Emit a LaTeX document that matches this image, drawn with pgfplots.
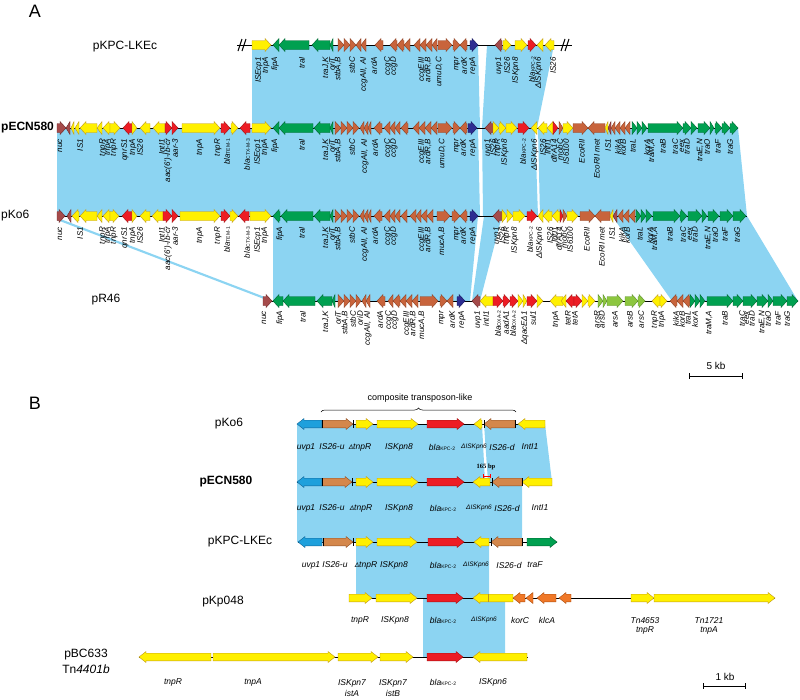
\documentclass[border=0pt]{standalone}
\usepackage{pgfplots}
\pgfplotsset{compat=1.18}
\usepackage{fontspec}
\setmainfont{Liberation Sans}
\newfontfamily\seriffont{Liberation Serif}
\usetikzlibrary{decorations.pathreplacing}
\definecolor{gY}{RGB}{255,240,0}\definecolor{gYd}{RGB}{190,150,30}
\definecolor{gG}{RGB}{0,160,80}\definecolor{gGd}{RGB}{0,100,50}
\definecolor{gB}{RGB}{200,100,60}\definecolor{gBd}{RGB}{140,65,35}
\definecolor{gM}{RGB}{165,75,75}\definecolor{gMd}{RGB}{110,40,40}
\definecolor{gR}{RGB}{237,28,36}\definecolor{gRd}{RGB}{160,20,20}
\definecolor{gN}{RGB}{45,45,145}\definecolor{gNd}{RGB}{20,20,90}
\definecolor{gL}{RGB}{140,198,63}\definecolor{gLd}{RGB}{90,140,40}
\definecolor{bBl}{RGB}{30,160,220}\definecolor{bBld}{RGB}{20,100,150}
\definecolor{bOr}{RGB}{212,135,75}\definecolor{bOrd}{RGB}{140,80,40}
\definecolor{bOt}{RGB}{240,120,40}\definecolor{bOtd}{RGB}{170,80,20}
\definecolor{shade}{RGB}{140,212,242}
\def\hh{6.5}\def\bh{4.5}\def\hl{6}\def\gy{45}\def\ry{55}
\newcommand{\gene}[3]{%
 \pgfmathsetmacro\gd{(#2>#1)?1:-1}%
 \pgfmathsetmacro\gLen{abs(#2-#1)}%
 \pgfmathsetmacro\gh{min(\hl,\gLen)}%
 \pgfmathsetmacro\gx{#2-\gd*\gh}%
 \pgfmathsetmacro\ya{\gy-\bh}\pgfmathsetmacro\yb{\gy+\bh}%
 \pgfmathsetmacro\yc{\gy-\hh}\pgfmathsetmacro\ye{\gy+\hh}%
 \addplot[fill=#3, draw=#3d, line width=0.4pt] coordinates {(#1,\ya) (\gx,\ya) (\gx,\yc) (#2,\gy) (\gx,\ye) (\gx,\yb) (#1,\yb) (#1,\ya)};%
}
\newcommand{\bline}[2]{\addplot[black,line width=1pt] coordinates {(#1,\gy)(#2,\gy)};}
\newcommand{\sh}[8]{\addplot[fill=shade,draw=none] coordinates {(#1,#2)(#3,#4)(#5,#6)(#7,#8)(#1,#2)};}
\newcommand{\la}[2]{\edef\tmp{\noexpand\node[lab] at (axis cs:#1,\ry)}\tmp{#2};}
\newcommand{\lb}[2]{\edef\tmp{\noexpand\node[labb] at (axis cs:#1,\ry)}\tmp{#2};}
\newcommand{\bla}[1]{bla{\fontsize{5}{5}\selectfont\upshape #1}}
\newcommand{\tk}[1]{\addplot[black,line width=0.8pt] coordinates {(#1,\gy-4)(#1,\gy+4)};}
\begin{document}
\begin{tikzpicture}[lab/.style={rotate=90,anchor=east,inner sep=0pt,font=\fontsize{8}{8}\selectfont\itshape},
 labb/.style={anchor=center,inner sep=0pt,font=\fontsize{8.5}{9}\selectfont\itshape},
 nm/.style={inner sep=0pt,font=\fontsize{12}{13}\selectfont}]
\begin{axis}[scale only axis, width=800pt, height=699pt, xmin=0, xmax=800, ymin=0, ymax=699,
 y dir=reverse, hide axis, clip=false, no marks]
\addplot[draw=none] coordinates {(0,0)(800,699)};
% ---------- shading panel A
\sh{252}{45}{478}{45}{480}{128}{252}{128}
\sh{487}{45}{554}{45}{537}{128}{482}{128}
\sh{57}{128}{478}{128}{480}{216}{57}{216}
\sh{482}{128}{535}{128}{538}{216}{483}{216}
\sh{538}{128}{738}{128}{747}{216}{540}{216}
\sh{57}{220}{63}{220}{270}{299}{264}{299}
\sh{273}{216}{478}{216}{470}{301}{273}{301}
\sh{484}{216}{502}{216}{480}{301}{472}{301}
\sh{612}{216}{747}{216}{798}{301}{672}{301}
% ---------- shading panel B
\sh{297}{424}{482}{424}{485}{482}{297}{482}
\sh{484}{424}{545}{424}{552}{482}{488}{482}
\sh{297}{482}{522}{482}{522}{542}{297}{542}
\sh{356}{542}{489}{542}{489}{598}{356}{598}
\sh{423}{598}{505}{598}{505}{657}{423}{657}
% ================= PANEL A
% pKPC-LKEc
\def\gy{45}
\bline{237}{572}
\addplot[black,line width=1pt] coordinates {(238,51)(242,39)};
\addplot[black,line width=1pt] coordinates {(242,51)(246,39)};
\addplot[black,line width=1pt] coordinates {(561,51)(565,39)};
\addplot[black,line width=1pt] coordinates {(565,51)(569,39)};
\gene{252}{271}{gY}
\gene{279}{273}{gG}\gene{309}{279}{gG}\gene{330}{312}{gG}\gene{333}{330}{gG}
\gene{338}{344}{gB}\gene{344}{350}{gB}\gene{350}{356}{gB}
\gene{361}{356}{gB}\gene{366}{361}{gB}
\gene{383}{375}{gB}
\gene{397}{390}{gB}\gene{404}{397}{gB}\gene{410}{404}{gB}
\gene{420}{414}{gB}\gene{426}{420}{gB}\gene{432}{426}{gB}\gene{437}{432}{gB}
\gene{438}{452}{gB}\gene{453}{460}{gB}\gene{467}{460}{gB}
\gene{470}{478}{gN}
\gene{502}{495}{gM}\gene{503}{511}{gY}\gene{515}{527}{gY}\gene{528}{536}{gR}
\gene{543}{537}{gY}\gene{554}{545}{gY}
% pECN580
\def\gy{128}
\bline{57}{738}
\gene{57}{66}{gM}\gene{70}{66}{gM}
\gene{74}{71}{gY}\gene{79}{75}{gY}\gene{97}{80}{gY}\gene{102}{97}{gY}
\gene{110}{103}{gY}\gene{110}{120}{gY}
\gene{132}{123}{gR}\gene{132}{137}{gY}
\gene{150}{140}{gY}\gene{165}{153}{gY}
\gene{165}{172}{gR}\gene{172}{178}{gR}
\gene{182}{220}{gY}
\gene{221}{230}{gR}\gene{231}{238}{gY}
\gene{250}{240}{gR}
\gene{252}{271}{gY}
\gene{279}{273}{gG}\gene{313}{279}{gG}\gene{330}{314}{gG}\gene{333}{330}{gG}
\gene{335}{341}{gB}\gene{341}{347}{gB}\gene{347}{353}{gB}\gene{353}{359}{gB}
\gene{364}{360}{gB}\gene{368}{364}{gB}\gene{371}{368}{gB}
\gene{382}{374}{gB}
\gene{390}{384}{gB}\gene{395}{390}{gB}\gene{400}{395}{gB}\gene{408}{401}{gB}
\gene{419}{413}{gB}\gene{425}{419}{gB}\gene{431}{425}{gB}\gene{437}{431}{gB}
\gene{438}{452}{gB}\gene{453}{460}{gB}\gene{467}{460}{gB}
\gene{468}{477}{gN}
\gene{493}{485}{gM}\gene{493}{499}{gY}\gene{499}{506}{gY}\gene{506}{517}{gY}
\gene{518}{529}{gR}
\gene{537}{531}{gY}\gene{547}{538}{gY}\gene{553}{547}{gY}
\gene{553}{558}{gR}\gene{559}{563}{gB}\gene{563}{573}{gY}
\gene{573}{588}{gB}\gene{605}{588}{gB}
\gene{608}{605}{gY}\gene{611}{608}{gM}
\gene{615}{611}{gB}\gene{620}{615}{gB}\gene{625}{620}{gB}\gene{630}{625}{gB}
\gene{632}{637}{gG}\gene{637}{642}{gG}\gene{642}{647}{gG}
\gene{648}{683}{gG}\gene{683}{691}{gG}\gene{691}{697}{gG}
\gene{698}{710}{gG}\gene{710}{714}{gG}\gene{715}{722}{gG}\gene{722}{730}{gG}\gene{730}{738}{gG}
% pKo6
\def\gy{216}
\bline{57}{747}
\gene{57}{65}{gM}\gene{71}{67}{gM}
\gene{79}{72}{gY}\gene{97}{80}{gY}\gene{102}{97}{gY}
\gene{110}{103}{gY}\gene{110}{119}{gY}
\gene{132}{122}{gR}\gene{132}{137}{gY}
\gene{150}{140}{gY}\gene{163}{152}{gY}
\gene{163}{172}{gR}\gene{172}{178}{gR}
\gene{180}{220}{gY}
\gene{221}{230}{gR}\gene{230}{238}{gY}
\gene{249}{239}{gR}
\gene{250}{271}{gY}
\gene{280}{273}{gG}\gene{313}{281}{gG}\gene{330}{314}{gG}\gene{333}{330}{gG}
\gene{335}{341}{gB}\gene{341}{347}{gB}\gene{347}{353}{gB}\gene{353}{359}{gB}
\gene{364}{360}{gB}\gene{368}{364}{gB}\gene{371}{368}{gB}
\gene{382}{374}{gB}
\gene{390}{384}{gB}\gene{395}{390}{gB}\gene{400}{395}{gB}\gene{407}{401}{gB}
\gene{416}{410}{gB}\gene{421}{416}{gB}\gene{427}{421}{gB}\gene{433}{427}{gB}
\gene{437}{450}{gB}\gene{452}{460}{gB}\gene{467}{460}{gB}
\gene{470}{478}{gN}
\gene{502}{493}{gM}\gene{502}{507}{gY}\gene{507}{513}{gY}\gene{513}{525}{gY}
\gene{527}{537}{gR}
\gene{543}{538}{gY}\gene{552}{543}{gY}\gene{560}{552}{gY}
\gene{560}{563}{gR}\gene{563}{567}{gB}\gene{567}{578}{gY}
\gene{580}{595}{gB}\gene{610}{595}{gB}
\gene{613}{610}{gY}\gene{617}{613}{gM}
\gene{623}{618}{gB}\gene{629}{623}{gB}\gene{635}{629}{gB}
\gene{636}{641}{gG}\gene{641}{646}{gG}\gene{646}{652}{gG}
\gene{653}{680}{gG}\gene{680}{687}{gG}\gene{688}{702}{gG}\gene{702}{707}{gG}
\gene{708}{719}{gG}\gene{720}{733}{gG}\gene{733}{746}{gG}
% pR46
\def\gy{301}
\bline{263}{798}
\gene{263}{272}{gM}
\gene{283}{273}{gG}\gene{315}{283}{gG}\gene{332}{317}{gG}\gene{335}{332}{gG}
\gene{338}{344}{gB}\gene{344}{350}{gB}\gene{350}{356}{gB}\gene{356}{361}{gB}
\gene{366}{362}{gB}\gene{370}{366}{gB}
\gene{385}{377}{gB}
\gene{393}{388}{gB}\gene{400}{393}{gB}\gene{406}{400}{gB}\gene{412}{406}{gB}\gene{418}{412}{gB}
\gene{420}{438}{gB}\gene{440}{447}{gB}\gene{453}{447}{gB}
\gene{457}{465}{gN}
\gene{480}{472}{gM}\gene{493}{480}{gY}
\gene{493}{503}{gR}\gene{503}{510}{gR}\gene{510}{518}{gR}
\gene{518}{523}{gY}\gene{523}{527}{gY}
\gene{527}{537}{gR}\gene{537}{543}{gY}
\gene{563}{550}{gY}\gene{566}{561}{gY}
\gene{574}{566}{gR}\gene{574}{582}{gR}
\gene{582}{588}{gY}\gene{588}{595}{gY}
\gene{598}{603}{gL}\gene{603}{607}{gL}\gene{607}{623}{gL}\gene{625}{638}{gL}\gene{638}{645}{gL}
\gene{660}{652}{gY}\gene{660}{667}{gY}
\gene{677}{670}{gB}\gene{683}{677}{gB}\gene{690}{683}{gB}
\gene{690}{695}{gG}\gene{695}{700}{gG}\gene{700}{705}{gG}
\gene{707}{733}{gG}\gene{733}{743}{gG}\gene{743}{757}{gG}\gene{757}{768}{gG}
\gene{768}{773}{gG}\gene{773}{787}{gG}\gene{787}{798}{gG}
% ---------- labels A
\def\ry{57}
\la{259}{ISEcp1}\la{266}{tnpA}\la{275}{fipA}\la{302}{traI}\la{326}{traJ,K}\la{332}{oriT}
\la{338}{stbA,B}\la{352}{stbC}\la{364}{ccgAII, AI}\la{374}{ardA}\la{388}{ccgC}\la{394}{ccgD}
\la{422}{ccgEIII}\la{428}{ardR,B}\la{439}{umuD,C}\la{457}{mpr}\la{464}{ardK}\la{473}{repA}
\la{499}{uvp1}\la{507}{IS26}\la{516}{ISKpn8}\la{532}{\bla{KPC-2}}\la{539}{ΔISKpn6}\la{553}{IS26}
\def\ry{139}
\la{60}{nuc}\la{80}{IS1}\la{103}{tnpR}\la{108}{tnpA}\la{114}{tnpR}\la{125}{qnrS1}\la{133}{tnpA}\la{140}{IS26}
\la{162}{IntI1}\la{168}{aac(6')-Ib-cr}\la{175}{aar-3}\la{200}{tnpA}\la{218}{tnpR}\la{227}{\bla{TEM-1}}
\la{247}{\bla{CTX-M-3}}\la{258}{ISEcp1}\la{265}{tnpA}\la{275}{fipA}\la{302}{traI}
\la{326}{traJ,K}\la{332}{oriT}\la{338}{stbA,B}\la{352}{stbC}\la{365}{ccgAII, AI}\la{375}{ardA}\la{388}{ccgC}\la{394}{ccgD}
\la{422}{ccgEIII}\la{428}{ardR,B}\la{442}{umuD,C}\la{457}{mpr}\la{463}{ardK}\la{473}{repA}
\la{488}{uvp1}\la{493}{IS26}\la{498}{tnpR}\la{505}{ISKpn8}\la{523}{\bla{KPC-2}}\la{535}{ΔISKpn6}
\la{543}{IS26}\la{548}{IntI1}\la{554}{dfrA14}\la{560}{mobC}\la{566}{IS6100}\la{582}{EcoRII}
\la{597}{EcoRII met}\la{608}{IS1}\la{618}{kikA}\la{623}{korB}\la{633}{traL}\la{647}{korA}\la{652}{traM,A}
\la{663}{traB}\la{675}{traC}\la{682}{eex}\la{687}{traD}\la{700}{traE,N}\la{707}{traO}\la{718}{traF}\la{730}{traG}
\def\ry{227}
\la{60}{nuc}\la{80}{IS1}\la{103}{tnpR}\la{108}{tnpA}\la{114}{tnpR}\la{125}{qnrS1}\la{133}{tnpA}\la{140}{IS26}
\la{162}{IntI1}\la{168}{aac(6')-Ib-cr}\la{175}{aar-3}\la{200}{tnpA}\la{218}{tnpR}\la{227}{\bla{TEM-1}}
\la{247}{\bla{CTX-M-3}}\la{258}{ISEcp1}\la{265}{tnpA}\la{280}{fipA}\la{302}{traI}
\la{326}{traJ,K}\la{332}{oriT}\la{338}{stbA,B}\la{352}{stbC}\la{365}{ccgAII, AI}\la{375}{ardA}\la{388}{ccgC}\la{394}{ccgD}
\la{422}{ccgEIII}\la{428}{ardR,B}\la{442}{mucA,B}\la{457}{mpr}\la{463}{ardK}\la{473}{repA}
\la{497}{uvp1}\la{502}{IS26}\la{507}{tnpR}\la{515}{ISKpn8}\la{530}{\bla{KPC-2}}\la{540}{ΔISKpn6}
\la{550}{IS26}\la{555}{IntI1}\la{559}{dfrA14}\la{564}{mobC}\la{570}{IS6100}\la{587}{EcoRII}
\la{602}{EcoRII met}\la{612}{IS1}\la{622}{kikA}\la{627}{korB}\la{640}{traL}\la{650}{korA}\la{655}{traM,A}
\la{670}{traB}\la{683}{traC}\la{690}{eex}\la{695}{traD}\la{708}{traE,N}\la{715}{traO}\la{725}{traF}\la{737}{traG}
\def\ry{311}
\la{264}{nuc}\la{280}{fipA}\la{303}{traI}\la{326}{traJ,K}\la{338}{oriT}\la{345}{stbA,B}\la{353}{stbC}
\la{360}{oriD}\la{368}{ccgAII, AI}\la{380}{ardA}\la{389}{ccgC}\la{395}{ccgD}
\la{407}{ccgEIII}\la{413}{ardR,B}\la{422}{mucA,B}\la{442}{mpr}\la{452}{ardK}\la{462}{repA}
\la{478}{uvp1}\la{486}{intI1}\la{498}{\bla{OXA-2}}\la{506}{aadA1}\la{513}{\bla{OXA-2}}\la{525}{ΔqacEΔ1}\la{533}{sul1}
\la{556}{tnpA}\la{568}{tetR}\la{575}{tetA}\la{597}{arsR}\la{602}{arsD}\la{615}{arsA}\la{630}{arsB}\la{641}{arsC}
\la{655}{tnpR}\la{662}{tnpA}\la{676}{kikA}\la{682}{korB}\la{688}{traL}\la{695}{korA}\la{709}{traM,A}\la{725}{traB}
\la{742}{traC}\la{747}{eex}\la{752}{traD}\la{762}{traE,N}\la{768}{traO}\la{778}{traF}\la{787}{traG}
% names A
\node[font=\fontsize{18}{18}\selectfont] at (axis cs:35,11) {A};
\node[nm] at (axis cs:125,47) {pKPC-LKEc};
\node[nm,anchor=west,font=\fontsize{12}{13}\selectfont\bfseries] at (axis cs:1,128) {pECN580};
\node[nm,anchor=west] at (axis cs:1,216) {pKo6};
\node[nm] at (axis cs:106,300) {pR46};
\addplot[black,line width=0.6pt] coordinates {(689,376)(742,376)};
\addplot[black,line width=0.6pt] coordinates {(689,373)(689,379)};
\addplot[black,line width=0.6pt] coordinates {(742,373)(742,379)};
\node[font=\fontsize{10}{10}\selectfont] at (axis cs:716,366) {5 kb};
% ================= PANEL B
\def\hh{5.5}\def\bh{3.8}\def\hl{7}
\def\gy{424}
\bline{298}{545}
\gene{322}{297}{bBl}\gene{322}{353}{bOr}\gene{356}{373}{gY}\gene{377}{418}{gY}
\gene{427}{464}{gR}\gene{482}{474}{gY}\gene{515}{484}{bOr}\gene{545}{518}{gY}
\tk{322}\tk{353}\tk{484}\tk{515}
\def\gy{482}
\bline{297}{552}
\gene{322}{297}{bBl}\gene{322}{352}{bOr}\gene{356}{373}{gY}\gene{377}{418}{gY}
\gene{427}{464}{gR}\gene{490}{473}{gY}\gene{522}{492}{bOr}\gene{552}{522}{gY}
\tk{322}\tk{352}\tk{492}\tk{522}
\def\gy{542}
\bline{298}{557}
\gene{322}{298}{bBl}\gene{323}{353}{bOr}\gene{356}{373}{gY}\gene{377}{417}{gY}
\gene{428}{464}{gR}\gene{489}{474}{gY}\gene{522}{491}{bOr}\gene{527}{557}{gG}
\tk{323}\tk{353}\tk{491}\tk{522}
\def\gy{598}
\bline{349}{775}
\gene{349}{372}{gY}\gene{376}{417}{gY}\gene{427}{463}{gR}\gene{513}{473}{gY}
\addplot[gYd,line width=0.5pt] coordinates {(488,594)(488,602)};
\gene{525}{513}{bOt}\gene{533}{526}{bOt}\gene{556}{537}{bOt}\gene{571}{559}{bOt}
\gene{631}{654}{gY}\gene{654}{775}{gY}
\def\gy{657}
\bline{139}{528}
\gene{211}{139}{gY}\gene{213}{335}{gY}\gene{338}{378}{gY}\gene{380}{413}{gY}
\gene{427}{463}{gR}\gene{527}{473}{gY}
% labels B
\def\ry{447}
\lb{306}{uvp1}\lb{332}{IS26-u}\lb{360}{{\fontsize{6.5}{7}\selectfont Δ}tnpR}\lb{399}{ISKpn8}\lb{442}{\bla{KPC-2}}
\lb{474}{{\fontsize{6.5}{7}\selectfont ΔISKpn6}}\lb{502}{IS26-d}\lb{530}{IntI1}
\def\ry{508}
\lb{306}{uvp1}\lb{332}{IS26-u}\lb{361}{{\fontsize{6.5}{7}\selectfont Δ}tnpR}\lb{399}{ISKpn8}\lb{443}{\bla{KPC-2}}
\lb{479}{{\fontsize{6.5}{7}\selectfont ΔISKpn6}}\lb{507}{IS26-d}\lb{540}{IntI1}
\def\ry{565}
\lb{311}{uvp1}\lb{335}{IS26-u}\lb{366}{{\fontsize{6.5}{7}\selectfont Δ}tnpR}\lb{394}{ISKpn8}\lb{443}{\bla{KPC-2}}
\lb{476}{{\fontsize{6.5}{7}\selectfont ΔISKpn6}}\lb{509}{IS26-d}\lb{535}{traF}
\def\ry{620}
\lb{360}{tnpR}\lb{395}{ISKpn8}\lb{443}{\bla{KPC-2}}\lb{484}{{\fontsize{6.5}{7}\selectfont ΔISKpn6}}\lb{520}{korC}\lb{547}{klcA}
\def\ry{626}
\lb{645}{\shortstack{Tn4653\\tnpR}}\lb{709}{\shortstack{Tn1721\\tnpA}}
\def\ry{682}
\lb{173}{tnpR}\lb{253}{tnpA}\lb{443}{\bla{KPC-2}}\lb{493}{ISKpn6}
\def\ry{688}
\lb{352}{\shortstack{ISKpn7\\istA}}\lb{393}{\shortstack{ISKpn7\\istB}}
% names B
\node[font=\fontsize{18}{18}\selectfont] at (axis cs:35,403) {B};
\node[inner sep=0pt,font=\fontsize{9}{9}\selectfont] at (axis cs:420,398) {composite transposon-like};
\draw[decorate,decoration={brace,amplitude=4pt},line width=0.5pt] (axis cs:321,412) -- (axis cs:516,412);
\node[inner sep=0pt,font=\seriffont\fontsize{6.5}{7}\selectfont\bfseries] at (axis cs:486,467) {165 bp};
\addplot[red,line width=0.5pt] coordinates {(483,476)(490,476)};
\addplot[red,line width=0.5pt] coordinates {(483,474)(483,478)};
\addplot[red,line width=0.5pt] coordinates {(490,474)(490,478)};
\node[nm] at (axis cs:229,424) {pKo6};
\node[nm,font=\fontsize{12}{13}\selectfont\bfseries] at (axis cs:226,482) {pECN580};
\node[nm] at (axis cs:240,542) {pKPC-LKEc};
\node[nm] at (axis cs:223,602) {pKp048};
\node[nm] at (axis cs:86,655) {pBC633};
\node[nm] at (axis cs:86,669) {Tn\textit{4401b}};
\addplot[black,line width=0.6pt] coordinates {(703,686)(745,686)};
\addplot[black,line width=0.6pt] coordinates {(703,683)(703,689)};
\addplot[black,line width=0.6pt] coordinates {(745,683)(745,689)};
\node[font=\fontsize{10}{10}\selectfont] at (axis cs:725,677) {1 kb};
\end{axis}
\end{tikzpicture}
\end{document}
